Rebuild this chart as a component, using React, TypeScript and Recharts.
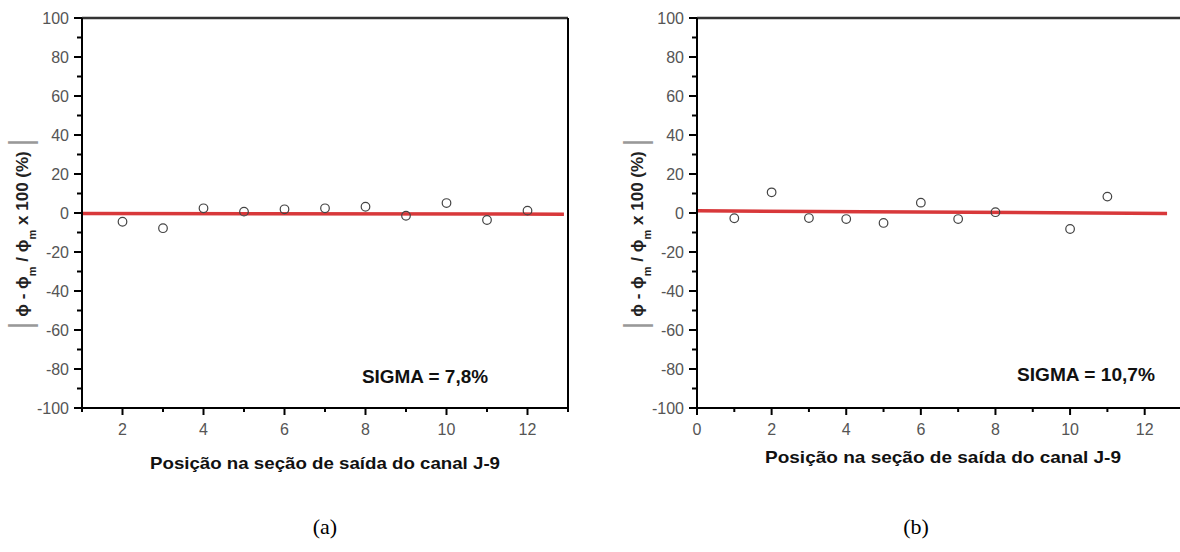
import React from 'react';
import { ComposedChart, Line, Scatter, XAxis, YAxis, ReferenceLine } from 'recharts';

// (a) measured points
const positionsA = [2, 3, 4, 5, 6, 7, 8, 9, 10, 11, 12];
const valuesA = [-4.5, -7.8, 2.4, 0.7, 1.9, 2.4, 3.2, -1.4, 5.1, -3.6, 1.2];
// (b) measured points
const positionsB = [1, 2, 3, 4, 5, 6, 7, 8, 10, 11];
const valuesB = [-2.7, 10.6, -2.6, -3.1, -5.1, 5.3, -3.1, 0.4, -8.2, 8.4];

// red fit lines
const fitXA = [1, 12.9];
const fitYA = [-0.2, -0.6];
const fitXB = [0, 12.6];
const fitYB = [1.1, -0.2];

const yTicks = [-100, -90, -80, -70, -60, -50, -40, -30, -20, -10, 0, 10, 20, 30, 40, 50, 60, 70, 80, 90, 100];
const xTicksA = [1, 2, 3, 4, 5, 6, 7, 8, 9, 10, 11, 12, 13];
const xTicksB = [0, 1, 2, 3, 4, 5, 6, 7, 8, 9, 10, 11, 12, 13];

const xTitle = 'Posição na seção de saída do canal J-9';
const sigmaA = 'SIGMA = 7,8%';
const sigmaB = 'SIGMA = 10,7%';

const SANS = '"Liberation Sans", Arial, sans-serif';
const PLOT_TOP = 18;
const PLOT_BOTTOM = 408;

const toPoints = (xs: number[], ys: number[]) => xs.map((x, i) => ({ x, y: ys[i] }));

const makeXTick = () => (props: any) => {
  const { x, payload } = props;
  const v = payload.value;
  const major = v % 2 === 0;
  return (
    <g>
      <line x1={x} x2={x} y1={PLOT_BOTTOM} y2={PLOT_BOTTOM + (major ? 7 : 4)} stroke="#000" strokeWidth={2} />
      {major && (
        <text x={x} y={PLOT_BOTTOM + 27} textAnchor="middle" fontSize={16} fill="#555" fontFamily={SANS}>
          {v}
        </text>
      )}
    </g>
  );
};

const makeYTick = (axisX: number) => (props: any) => {
  const { y, payload } = props;
  const v = payload.value;
  const major = v % 20 === 0;
  return (
    <g>
      <line x1={axisX - (major ? 8 : 5)} x2={axisX} y1={y} y2={y} stroke="#000" strokeWidth={2} />
      {major && (
        <text x={axisX - 13} y={y + 5.6} textAnchor="end" fontSize={16} fill="#555" fontFamily={SANS}>
          {v}
        </text>
      )}
    </g>
  );
};

const OpenCircle = (props: any) => (
  <circle cx={props.cx} cy={props.cy} r={4.3} fill="none" stroke="#444" strokeWidth={1.2} />
);

interface PanelProps {
  left: number;
  axisX: number;
  marginLeft: number;
  marginRight: number;
  domain: [number, number];
  ticks: number[];
  points: { x: number; y: number }[];
  fit: { x: number; y: number }[];
  rightBorder?: number;
}

function Panel({ left, axisX, marginLeft, marginRight, domain, ticks, points, fit, rightBorder }: PanelProps) {
  return (
    <div style={{ position: 'absolute', left, top: 0 }}>
      <ComposedChart
        width={600}
        height={552}
        margin={{ top: PLOT_TOP, right: marginRight, bottom: 552 - PLOT_BOTTOM - 30, left: marginLeft }}
      >
        <XAxis
          type="number"
          dataKey="x"
          domain={domain}
          ticks={ticks}
          interval={0}
          allowDataOverflow
          height={30}
          tickLine={false}
          axisLine={{ stroke: '#000', strokeWidth: 2 }}
          tick={makeXTick()}
        />
        <YAxis
          type="number"
          dataKey="y"
          domain={[-100, 100]}
          ticks={yTicks}
          interval={0}
          width={60}
          tickLine={false}
          axisLine={{ stroke: '#000', strokeWidth: 2 }}
          tick={makeYTick(axisX)}
        />
        <ReferenceLine y={100} stroke="#333" strokeWidth={2.5} />
        {rightBorder !== undefined && <ReferenceLine x={rightBorder} stroke="#000" strokeWidth={2} />}
        <Line
          data={fit}
          dataKey="y"
          type="linear"
          stroke="#d8383a"
          strokeWidth={3.5}
          dot={false}
          activeDot={false}
          isAnimationActive={false}
        />
        <Scatter data={points} dataKey="y" shape={OpenCircle} isAnimationActive={false} />
      </ComposedChart>
    </div>
  );
}

function YTitle({ bx, cy }: { bx: number; cy: number }) {
  return (
    <text
      transform={`translate(${bx},${cy}) rotate(-90)`}
      textAnchor="middle"
      fontFamily={SANS}
      fontWeight="bold"
      fontSize={17}
      fill="#222"
    >
      <tspan fill="#999" fontWeight="normal" fontSize={31} dy={3}>|</tspan>
      <tspan dy={-3}> ϕ - ϕ</tspan>
      <tspan fontSize={11} dy={8}>m</tspan>
      <tspan dy={-8}> / ϕ</tspan>
      <tspan fontSize={11} dy={8}>m</tspan>
      <tspan dy={-8}> x 100 (%) </tspan>
      <tspan fill="#999" fontWeight="normal" fontSize={31} dy={3}>|</tspan>
    </text>
  );
}

export default function App() {
  const pointsA = toPoints(positionsA, valuesA);
  const pointsB = toPoints(positionsB, valuesB);
  const fitA = toPoints(fitXA, fitYA);
  const fitB = toPoints(fitXB, fitYB);

  return (
    <div
      style={{
        position: 'absolute',
        left: 0,
        top: 0,
        width: 1180,
        height: 552,
        overflow: 'hidden',
        background: '#fff',
      }}
    >
      <Panel
        left={0}
        axisX={82}
        marginLeft={22}
        marginRight={32}
        domain={[1, 13]}
        ticks={xTicksA}
        points={pointsA}
        fit={fitA}
        rightBorder={13}
      />
      <Panel
        left={600}
        axisX={97}
        marginLeft={37}
        marginRight={18}
        domain={[0, 13]}
        ticks={xTicksB}
        points={pointsB}
        fit={fitB}
      />
      <svg
        width={1180}
        height={552}
        style={{ position: 'absolute', left: 0, top: 0, pointerEvents: 'none' }}
      >
        <YTitle bx={28} cy={234} />
        <YTitle bx={643} cy={234} />
        <text x={325} y={469} textAnchor="middle" fontFamily={SANS} fontWeight="bold" fontSize={17}
          fill="#111" textLength={350} lengthAdjust="spacingAndGlyphs">
          {xTitle}
        </text>
        <text x={943} y={463} textAnchor="middle" fontFamily={SANS} fontWeight="bold" fontSize={17}
          fill="#111" textLength={356} lengthAdjust="spacingAndGlyphs">
          {xTitle}
        </text>
        <text x={425} y={383} textAnchor="middle" fontFamily={SANS} fontWeight="bold" fontSize={19}
          fill="#111" textLength={126} lengthAdjust="spacingAndGlyphs">
          {sigmaA}
        </text>
        <text x={1086} y={381} textAnchor="middle" fontFamily={SANS} fontWeight="bold" fontSize={19}
          fill="#111" textLength={138} lengthAdjust="spacingAndGlyphs">
          {sigmaB}
        </text>
        <text x={325} y={534} textAnchor="middle" fontFamily='"Liberation Serif", "Times New Roman", serif'
          fontSize={22} fill="#000">
          (a)
        </text>
        <text x={916} y={534} textAnchor="middle" fontFamily='"Liberation Serif", "Times New Roman", serif'
          fontSize={22} fill="#000">
          (b)
        </text>
      </svg>
    </div>
  );
}
